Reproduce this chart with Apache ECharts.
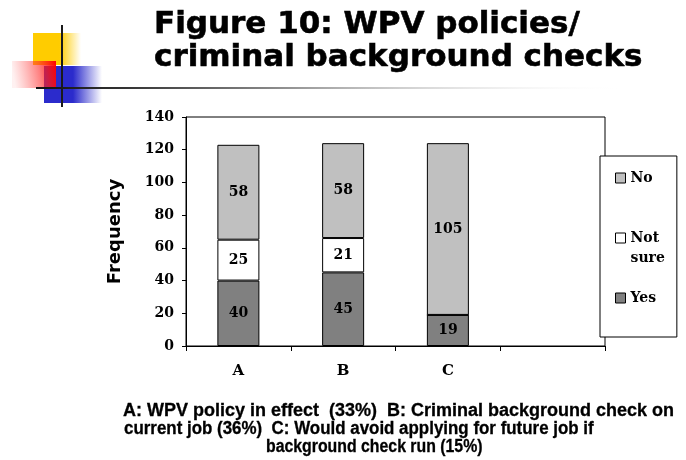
<!DOCTYPE html>
<html>
<head>
<meta charset="utf-8">
<script src="https://cdn.jsdelivr.net/npm/echarts@6/dist/echarts.min.js"></script>
<style>
html,body{margin:0;padding:0;background:#fff;}
#chart{width:686px;height:460px;}
</style>
</head>
<body>
<div id="chart"></div>
<script>
// ---- data ----
const categories = ['A', 'B', 'C', ''];
const seriesNames = ['Yes', 'Not sure', 'No'];
const yesValues = [40, 45, 19, null];
const notSureValues = [25, 21, 0, null];
const noValues = [58, 58, 105, null];
const legendOrder = ['No', 'Not sure', 'Yes'];
const yMin = 0, yMax = 140, yStep = 20;
const titleLines = ['Figure 10: WPV policies/', 'criminal background checks'];
const footLines = [
  'A: WPV policy in effect  (33%)  B: Criminal background check on',
  'current job (36%)  C: Would avoid applying for future job if',
  'background check run (15%)'
];

// ---- layout / style ----
const colors = { 'Yes': '#808080', 'Not sure': '#ffffff', 'No': '#c0c0c0' };
const serif = '"DejaVu Serif"';
const sans = '"DejaVu Sans"';
const footFont = 'bold 18px "Liberation Sans"';
const footPos = [[123, 411, 1], [124, 429, 0.94], [266, 447, 0.88]];

const chart = echarts.init(document.getElementById('chart'), null, { renderer: 'canvas' });

const valuesByName = { 'Yes': yesValues, 'Not sure': notSureValues, 'No': noValues };
const series = seriesNames.map(name => ({
  name: name,
  type: 'bar',
  stack: 'total',
  barWidth: 42,
  data: valuesByName[name],
  itemStyle: { color: colors[name], borderColor: '#000', borderWidth: 1 },
  label: {
    show: true,
    position: 'inside',
    color: '#000',
    fontFamily: serif,
    fontWeight: 'bold',
    fontSize: 14,
    formatter: p => (p.value ? String(p.value) : '')
  },
  emphasis: { disabled: true }
}));

const graphics = [];
// decorative squares
graphics.push({
  type: 'rect', shape: { x: 33, y: 33, width: 48, height: 32 }, z: 10,
  style: { fill: new echarts.graphic.LinearGradient(0, 0, 1, 0, [
    { offset: 0, color: '#ffcc00' }, { offset: 0.55, color: '#ffcc00' }, { offset: 1, color: 'rgba(255,204,0,0)' }]) }
});
graphics.push({
  type: 'rect', shape: { x: 44, y: 66, width: 58, height: 37 }, z: 11,
  style: { fill: new echarts.graphic.LinearGradient(0, 0, 1, 0, [
    { offset: 0, color: '#2b2bcc' }, { offset: 0.5, color: '#2b2bcc' }, { offset: 1, color: 'rgba(43,43,204,0)' }]) }
});
graphics.push({
  type: 'rect', shape: { x: 12, y: 61, width: 44, height: 27 }, z: 12,
  style: { fill: new echarts.graphic.LinearGradient(0, 0.3, 1, 0, [
    { offset: 0, color: 'rgba(255,80,80,0.08)' }, { offset: 0.6, color: 'rgba(255,40,40,0.6)' }, { offset: 1, color: '#ff0000' }]) }
});
graphics.push({
  type: 'rect', shape: { x: 36, y: 87, width: 591, height: 2 }, z: 13,
  style: { fill: new echarts.graphic.LinearGradient(0, 0, 1, 0, [
    { offset: 0, color: '#111' }, { offset: 0.15, color: '#333' }, { offset: 0.4, color: '#888' }, { offset: 1, color: 'rgba(255,255,255,0)' }]) }
});
graphics.push({
  type: 'rect', shape: { x: 61, y: 25, width: 2, height: 82 }, z: 14,
  style: { fill: '#1a1a1a' }
});
// title
titleLines.forEach((t, i) => {
  graphics.push({
    type: 'text', x: 154, y: i === 0 ? 25 : 58, z: 20,
    style: { text: t, fill: '#000', stroke: '#000', lineWidth: 0.6,
      font: 'bold 31px ' + sans, verticalAlign: 'middle', align: 'left' }
  });
});
// footnote
footLines.forEach((t, i) => {
  graphics.push({
    type: 'text', x: footPos[i][0], y: footPos[i][1], scaleX: footPos[i][2], z: 20,
    style: { text: t, fill: '#000', stroke: '#000', lineWidth: 0.3, font: footFont, verticalAlign: 'middle', align: 'left' }
  });
});

const option = {
  animation: false,
  backgroundColor: '#fff',
  grid: { left: 186, top: 117, width: 419, height: 229, show: true, borderColor: '#000', borderWidth: 1, backgroundColor: '#fff' },
  legend: {
    data: legendOrder,
    orient: 'vertical',
    left: 600, top: 156,
    padding: [12, 12, 29, 15],
    backgroundColor: '#fff',
    borderColor: '#000',
    borderWidth: 1,
    borderRadius: 0,
    itemWidth: 10, itemHeight: 10, itemGap: 20,
    icon: 'rect',
    selectedMode: false,
    itemStyle: { borderColor: '#000', borderWidth: 1 },
    textStyle: { fontFamily: serif, fontWeight: 'bold', fontSize: 14, color: '#000', lineHeight: 20 },
    formatter: n => (n === 'Not sure' ? ' \nNot\nsure' : n),
    z: 10
  },
  xAxis: {
    type: 'category',
    data: categories,
    boundaryGap: true,
    axisLine: { lineStyle: { color: '#000', width: 1 } },
    axisTick: { show: true, length: 5, lineStyle: { color: '#000' } },
    axisLabel: { color: '#000', fontFamily: serif, fontWeight: 'bold', fontSize: 15, margin: 18 }
  },
  yAxis: {
    type: 'value',
    min: yMin, max: yMax, interval: yStep,
    name: 'Frequency',
    nameLocation: 'middle',
    nameRotate: 90,
    nameGap: 62,
    nameTextStyle: { fontFamily: sans, fontWeight: 'bold', fontSize: 18, color: '#000' },
    axisLine: { show: true, lineStyle: { color: '#000', width: 1 } },
    axisTick: { show: true, length: 4, lineStyle: { color: '#000' } },
    splitLine: { show: false },
    axisLabel: { color: '#000', fontFamily: serif, fontWeight: 'bold', fontSize: 14, margin: 12 }
  },
  series: series,
  graphic: graphics
};
chart.setOption(option);
</script>
</body>
</html>
